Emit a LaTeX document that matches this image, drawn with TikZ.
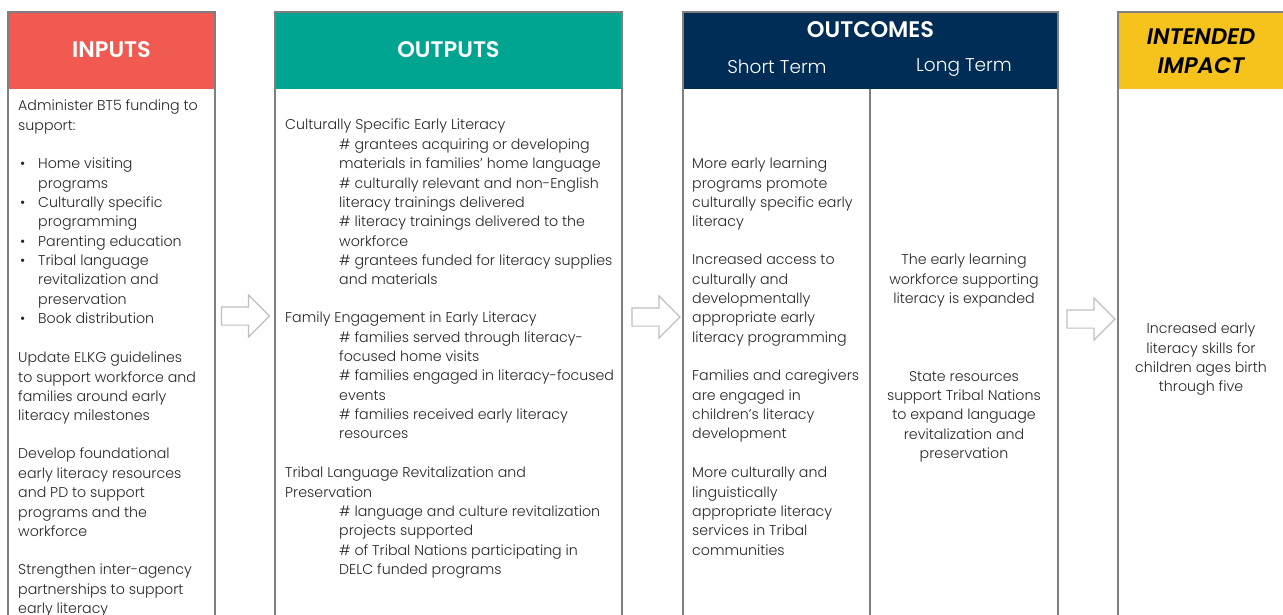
\documentclass[tikz,border=0pt]{standalone}
\usepackage{fontspec}
\setmainfont{Poppins}[UprightFont={* Light}, BoldFont={* SemiBold}, ItalicFont={* Light Italic}, BoldItalicFont={* SemiBold Italic}]
\usetikzlibrary{shapes.arrows}

\definecolor{inred}{HTML}{F15A50}
\definecolor{outteal}{HTML}{00A591}
\definecolor{ocnavy}{HTML}{002D56}
\definecolor{impyellow}{HTML}{F6C31C}
\definecolor{rulegray}{HTML}{7F7F7F}
\definecolor{arrowgray}{HTML}{BFBFBF}
\definecolor{bodytext}{HTML}{262626}

\tikzset{
  column/.style={draw=rulegray, line width=1.4pt},
  head/.style={text=white, font=\fontsize{22.5}{26}\selectfont\bfseries},
  subhead/.style={text=white, font=\fontsize{18.5}{22}\selectfont},
  body/.style={anchor=north west, inner sep=0pt, align=left, text=bodytext,
    font=\fontsize{14.2}{19.35}\selectfont, execute at begin node=\strut},
  bodyc/.style={body, anchor=north, align=center},
  flow/.style={single arrow, draw=arrowgray, fill=white, line width=1.2pt,
    minimum height=48pt, inner xsep=0pt, inner ysep=8.5pt, single arrow head extend=12pt}
}
\newcommand{\bul}{\hspace*{2pt}\makebox[18pt][l]{\textbullet}}
\newcommand{\cont}{\hspace*{20pt}}
\newcommand{\ind}{\hspace*{54pt}}

\begin{document}
\begin{tikzpicture}[x=1pt, y=-1pt]
 \useasboundingbox (0,0) rectangle (1283,614);
 \clip (0,0) rectangle (1283,614);

 % column headers
 \fill[inred] (8,12) rectangle (215,89);
 \fill[outteal] (275,12) rectangle (622,89);
 \fill[ocnavy] (683,12) rectangle (1058,89);
 \fill[impyellow] (1118,12) rectangle (1300,89);

 % column frames
 \draw[column] (8,12) rectangle (215,640);
 \draw[column] (275,12) rectangle (622,640);
 \draw[column] (683,12) rectangle (1058,640);
 \draw[column] (870,89) -- (870,640);
 \draw[column] (1118,12) rectangle (1300,640);

 \node[head] (inhead) at (111.5,50) {INPUTS};
 \node[head] (outhead) at (448.5,50) {OUTPUTS};
 \node[head] (ochead) at (870.5,30) {OUTCOMES};
 \node[subhead] (shorthead) at (777,67) {Short Term};
 \node[subhead] (longhead) at (964,68) {Long Term};
 \node[head, text=black, align=center, font=\fontsize{22.5}{29}\selectfont\bfseries\itshape]
   (imphead) at (1201,51) {INTENDED\\IMPACT};

 % inputs
 \node[body] (in1) at (18,100) {Administer BT5 funding to\\support:};
 \node[body] (in2) at (18,158) {\bul Home visiting\\\cont programs\\\bul Culturally specific\\\cont programming\\
   \bul Parenting education\\\bul Tribal language\\\cont revitalization and\\\cont preservation\\\bul Book distribution};
 \node[body] (in3) at (18,352) {Update ELKG guidelines\\to support workforce and\\families around early\\literacy milestones};
 \node[body] (in4) at (18,448) {Develop foundational\\early literacy resources\\and PD to support\\programs and the\\workforce};
 \node[body] (in5) at (18,564) {Strengthen inter-agency\\partnerships to support\\early literacy};

 % outputs
 \node[body] (out1) at (285,119) {Culturally Specific Early Literacy\\
   \ind\# grantees acquiring or developing\\\ind materials in families' home language\\
   \ind\# culturally relevant and non-English\\\ind literacy trainings delivered\\
   \ind\# literacy trainings delivered to the\\\ind workforce\\
   \ind\# grantees funded for literacy supplies\\\ind and materials};
 \node[body] (out2) at (285,312) {Family Engagement in Early Literacy\\
   \ind\# families served through literacy-\\\ind focused home visits\\
   \ind\# families engaged in literacy-focused\\\ind events\\
   \ind\# families received early literacy\\\ind resources};
 \node[body] (out3) at (285,467) {Tribal Language Revitalization and\\Preservation\\
   \ind\# language and culture revitalization\\\ind projects supported\\
   \ind\# of Tribal Nations participating in\\\ind DELC funded programs};

 % short term outcomes
 \node[body] (st1) at (692,158) {More early learning\\programs promote\\culturally specific early\\literacy};
 \node[body] (st2) at (692,254) {Increased access to\\culturally and\\developmentally\\appropriate early\\literacy programming};
 \node[body] (st3) at (692,370) {Families and caregivers\\are engaged in\\children's literacy\\development};
 \node[body] (st4) at (692,467) {More culturally and\\linguistically\\appropriate literacy\\services in Tribal\\communities};

 % long term outcomes
 \node[bodyc] (lt1) at (964,254) {The early learning\\workforce supporting\\literacy is expanded};
 \node[bodyc] (lt2) at (964,371) {State resources\\support Tribal Nations\\to expand language\\revitalization and\\preservation};

 % impact
 \node[bodyc] (imp) at (1201,323) {Increased early\\literacy skills for\\children ages birth\\through five};

 % block arrows between the columns
 \node[flow] (arrA) at (241,316) {};
 \node[flow] (arrB) at (651.5,317) {};
 \node[flow] (arrC) at (1086.5,319) {};
\end{tikzpicture}
\end{document}
